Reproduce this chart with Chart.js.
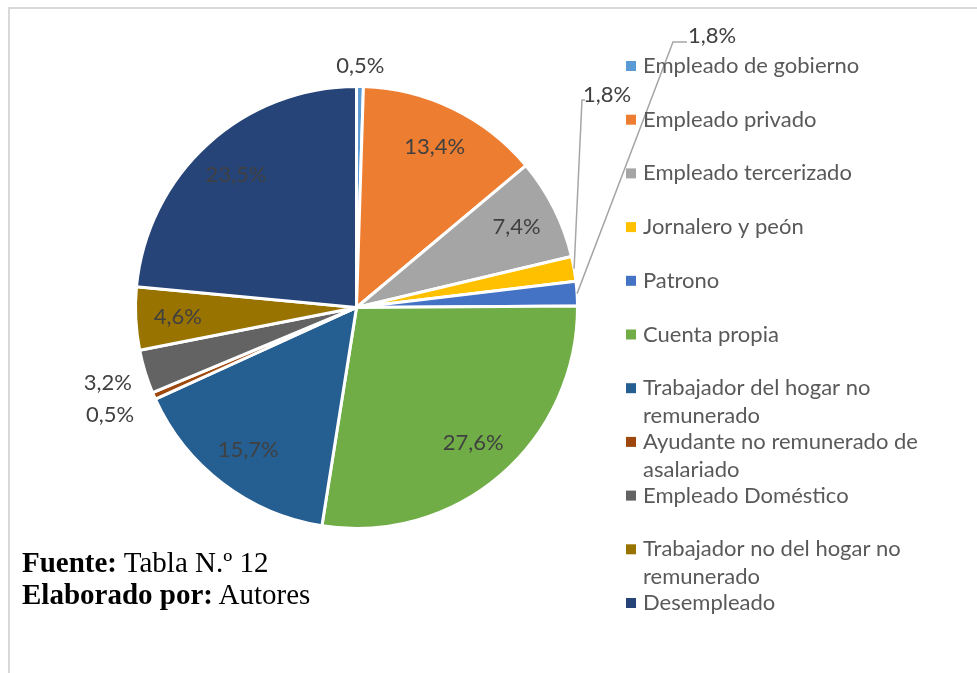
<!DOCTYPE html>
<html lang="es">
<head>
<meta charset="UTF-8">
<title>Categoría ocupacional</title>
<script src="https://cdn.jsdelivr.net/npm/chart.js@4.4.0/dist/chart.umd.min.js"></script>
<style>
  body { margin: 0; background: #fff; }
  .wrap { position: relative; width: 977px; height: 673px; overflow: hidden; }
  .frame { position: absolute; left: 8px; top: 7px; width: 1000px; height: 700px;
           border-top: 2px solid #d9d9d9; border-left: 2px solid #d9d9d9; }
  canvas { position: absolute; left: 0; top: 0; }
  .nota { position: absolute; left: 22px; top: 546px; font-family: "Liberation Serif", serif;
          font-size: 29px; line-height: 32px; color: #000; }
</style>
</head>
<body>
<div class="wrap">
  <div class="frame"></div>
  <canvas id="pie" width="977" height="673"></canvas>
  <div class="nota"><b>Fuente:</b> Tabla N.º 12<br><b>Elaborado por:</b> Autores</div>
</div>
<script>
// datos
var categorias = [
  ["Empleado de gobierno"],
  ["Empleado privado"],
  ["Empleado tercerizado"],
  ["Jornalero y peón"],
  ["Patrono"],
  ["Cuenta propia"],
  ["Trabajador del hogar no", "remunerado"],
  ["Ayudante no remunerado de", "asalariado"],
  ["Empleado Doméstico"],
  ["Trabajador no del hogar no", "remunerado"],
  ["Desempleado"]
];
var porcentajes = [0.5, 13.4, 7.4, 1.8, 1.8, 27.6, 15.7, 0.5, 3.2, 4.6, 23.5];
var colores = ["#5b9bd5", "#ed7d31", "#a5a5a5", "#ffc000", "#4472c4", "#70ad47",
               "#255e91", "#9e480e", "#636363", "#997300", "#264478"];

// etiquetas fuera del pastel: distancia extra desde el borde
var fuera = { 0: 21, 7: 48, 8: 39 };
// etiquetas con línea guía: posición del texto y codo de la línea
var guias = {
  3: { tx: 607, ty: 95, ex: 582, ey: 100, hx: 585 },
  4: { tx: 712, ty: 36, ex: 673, ey: 42, hx: 687 }
};

function fmt(v) { return v.toFixed(1).replace(".", ",") + "%"; }

var etiquetas = {
  id: "etiquetas",
  afterDatasetsDraw: function(chart) {
    var ctx = chart.ctx;
    var meta = chart.getDatasetMeta(0);
    ctx.save();
    ctx.font = "22px Lato";
    ctx.fillStyle = "#404040";
    ctx.textAlign = "center";
    ctx.textBaseline = "middle";
    meta.data.forEach(function(arc, i) {
      var p = arc.getProps(["x", "y", "startAngle", "endAngle", "outerRadius"], true);
      var a = (p.startAngle + p.endAngle) / 2;
      var txt = fmt(porcentajes[i]);
      if (guias[i]) {
        var g = guias[i];
        ctx.strokeStyle = "#a6a6a6";
        ctx.lineWidth = 1.5;
        ctx.beginPath();
        ctx.moveTo(p.x + Math.cos(a) * p.outerRadius, p.y + Math.sin(a) * p.outerRadius);
        ctx.lineTo(g.ex, g.ey);
        ctx.lineTo(g.hx, g.ey);
        ctx.stroke();
        ctx.fillText(txt, g.tx, g.ty);
      } else if (fuera[i] !== undefined) {
        var r = p.outerRadius + fuera[i];
        ctx.fillText(txt, p.x + Math.cos(a) * r, p.y + Math.sin(a) * r);
      } else {
        var r2 = p.outerRadius * 0.81;
        ctx.fillText(txt, p.x + Math.cos(a) * r2, p.y + Math.sin(a) * r2);
      }
    });
    ctx.restore();
  }
};

var leyenda = {
  id: "leyenda",
  afterDraw: function(chart) {
    var ctx = chart.ctx;
    ctx.save();
    ctx.font = "22px Lato";
    ctx.textBaseline = "middle";
    ctx.textAlign = "left";
    categorias.forEach(function(lineas, i) {
      var y = 65 + i * 53.7;
      ctx.fillStyle = colores[i];
      ctx.fillRect(626, y - 4, 10, 10);
      ctx.fillStyle = "#595959";
      lineas.forEach(function(t, j) {
        ctx.fillText(t, 643, y + 1 + j * 28);
      });
    });
    ctx.restore();
  }
};

new Chart(document.getElementById("pie"), {
  type: "pie",
  data: {
    labels: categorias.map(function(c) { return c.join(" "); }),
    datasets: [{
      data: porcentajes,
      backgroundColor: colores,
      borderColor: "#ffffff",
      borderWidth: 3
    }]
  },
  options: {
    responsive: false,
    animation: false,
    layout: { padding: { left: 134, right: 398, top: 84, bottom: 142 } },
    plugins: {
      legend: { display: false },
      tooltip: { enabled: false }
    }
  },
  plugins: [etiquetas, leyenda]
});
</script>
</body>
</html>
